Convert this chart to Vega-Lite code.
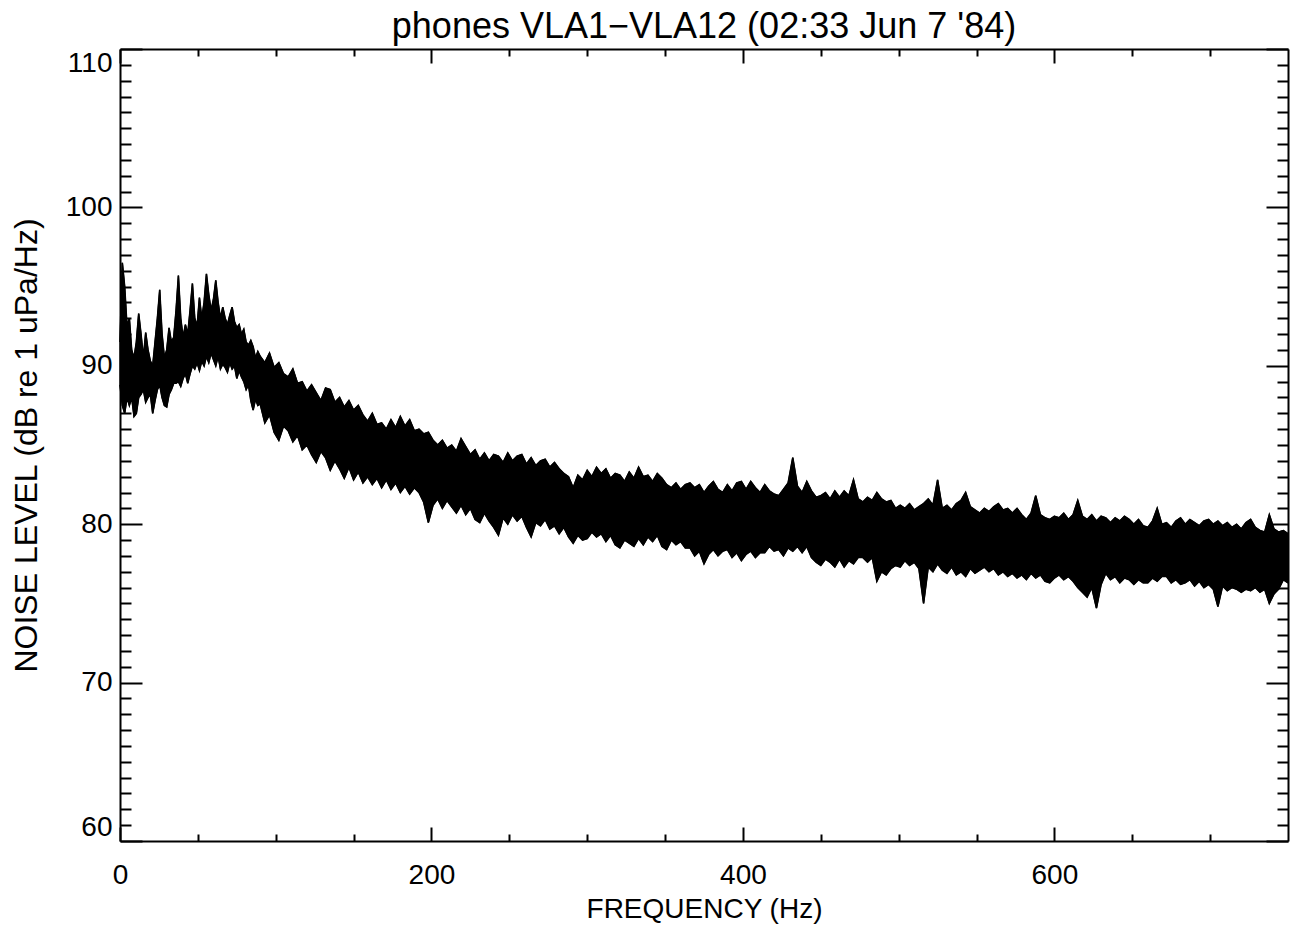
{
  "$schema": "https://vega.github.io/schema/vega-lite/v6.json",
  "width": 1168,
  "height": 792,
  "autosize": {"type": "none"},
  "padding": {"left": 120, "top": 49, "right": 8, "bottom": 89},
  "background": "white",
  "title": {
    "text": "phones VLA1\u2212VLA12 (02:33 Jun 7 '84)",
    "font": "Liberation Sans",
    "fontSize": 36,
    "fontWeight": "normal",
    "color": "black",
    "anchor": "middle",
    "offset": 2
  },
  "config": {
    "view": {"stroke": null},
    "axis": {
      "grid": false,
      "domainColor": "black",
      "domainWidth": 2,
      "tickColor": "black",
      "tickWidth": 2,
      "labelColor": "black",
      "labelFont": "Liberation Sans",
      "titleColor": "black",
      "titleFont": "Liberation Sans",
      "titleFontWeight": "normal"
    }
  },
  "datasets": {
    "band": [
      {"f": 0, "lo": 88.8, "hi": 91.5},
      {"f": 1.5, "lo": 87.5, "hi": 96.5},
      {"f": 3, "lo": 87.0, "hi": 95.0},
      {"f": 4.5, "lo": 88.0, "hi": 92.5},
      {"f": 6, "lo": 87.5, "hi": 93.0},
      {"f": 7.5, "lo": 88.0, "hi": 91.0},
      {"f": 9, "lo": 86.8, "hi": 90.5},
      {"f": 10.5, "lo": 87.0, "hi": 91.5},
      {"f": 12, "lo": 88.0, "hi": 93.3},
      {"f": 13.5, "lo": 88.2, "hi": 92.0},
      {"f": 15, "lo": 88.5, "hi": 90.5},
      {"f": 16.5, "lo": 87.7, "hi": 92.1},
      {"f": 18, "lo": 88.0, "hi": 91.0},
      {"f": 19.5, "lo": 88.2, "hi": 90.3},
      {"f": 21, "lo": 87.0, "hi": 90.0},
      {"f": 22.5, "lo": 87.8, "hi": 91.5},
      {"f": 24, "lo": 88.5, "hi": 93.0},
      {"f": 25.5, "lo": 88.8, "hi": 94.8},
      {"f": 27, "lo": 88.0, "hi": 92.0},
      {"f": 28.5, "lo": 87.5, "hi": 90.5},
      {"f": 30, "lo": 87.4, "hi": 91.0},
      {"f": 31.5, "lo": 88.2, "hi": 92.4},
      {"f": 33, "lo": 88.5, "hi": 91.5},
      {"f": 34.5, "lo": 88.9, "hi": 91.8},
      {"f": 36, "lo": 88.9, "hi": 93.5},
      {"f": 37.5, "lo": 89.0, "hi": 95.7},
      {"f": 39, "lo": 88.7, "hi": 93.0},
      {"f": 40.5, "lo": 89.2, "hi": 91.8},
      {"f": 42, "lo": 89.5, "hi": 92.6},
      {"f": 43.5, "lo": 88.9, "hi": 92.0},
      {"f": 45, "lo": 89.5, "hi": 93.5},
      {"f": 46.5, "lo": 90.0, "hi": 95.2},
      {"f": 48, "lo": 89.8, "hi": 93.0},
      {"f": 49.5, "lo": 90.2, "hi": 92.5},
      {"f": 51, "lo": 89.7, "hi": 94.3},
      {"f": 52.5, "lo": 90.3, "hi": 93.0},
      {"f": 54, "lo": 90.0, "hi": 94.0},
      {"f": 55.5, "lo": 90.6, "hi": 95.8},
      {"f": 57, "lo": 90.2, "hi": 94.5},
      {"f": 58.5, "lo": 90.8, "hi": 93.5},
      {"f": 60, "lo": 90.4, "hi": 94.2},
      {"f": 61.5, "lo": 90.0, "hi": 95.4},
      {"f": 63, "lo": 90.6, "hi": 94.0},
      {"f": 64.5, "lo": 89.8, "hi": 93.0},
      {"f": 66, "lo": 90.1, "hi": 93.7},
      {"f": 67.5, "lo": 89.9, "hi": 93.0},
      {"f": 69, "lo": 89.6, "hi": 92.6},
      {"f": 70.5, "lo": 90.2, "hi": 93.2},
      {"f": 72, "lo": 89.8, "hi": 93.7},
      {"f": 73.5, "lo": 90.0, "hi": 92.8},
      {"f": 75, "lo": 89.2, "hi": 92.4},
      {"f": 76.5, "lo": 89.7, "hi": 92.6},
      {"f": 78, "lo": 89.3, "hi": 92.0},
      {"f": 79.5, "lo": 89.0, "hi": 92.3},
      {"f": 81, "lo": 88.5, "hi": 91.5},
      {"f": 82.5, "lo": 88.8, "hi": 91.3},
      {"f": 84, "lo": 87.8, "hi": 91.6},
      {"f": 85.5, "lo": 87.2, "hi": 91.2},
      {"f": 87, "lo": 87.9, "hi": 90.5},
      {"f": 88.5, "lo": 87.5, "hi": 90.9},
      {"f": 90, "lo": 87.6, "hi": 90.6},
      {"f": 93, "lo": 86.4, "hi": 90.2},
      {"f": 96, "lo": 86.9, "hi": 90.8},
      {"f": 99, "lo": 85.8, "hi": 89.9},
      {"f": 102, "lo": 85.3, "hi": 90.2},
      {"f": 105, "lo": 86.2, "hi": 89.5},
      {"f": 108, "lo": 85.9, "hi": 89.3},
      {"f": 111, "lo": 85.2, "hi": 89.8},
      {"f": 114, "lo": 85.6, "hi": 88.9},
      {"f": 117, "lo": 84.7, "hi": 89.0},
      {"f": 120, "lo": 85.0, "hi": 88.4},
      {"f": 123, "lo": 84.4, "hi": 88.8},
      {"f": 126, "lo": 83.9, "hi": 88.3},
      {"f": 129, "lo": 84.6, "hi": 87.8},
      {"f": 132, "lo": 84.2, "hi": 88.6},
      {"f": 135, "lo": 83.4, "hi": 88.5},
      {"f": 138, "lo": 84.0, "hi": 87.7},
      {"f": 141, "lo": 83.5, "hi": 88.0},
      {"f": 144, "lo": 82.9, "hi": 87.4},
      {"f": 147, "lo": 83.6, "hi": 87.8},
      {"f": 150, "lo": 82.8, "hi": 87.2},
      {"f": 153, "lo": 83.3, "hi": 87.5},
      {"f": 156, "lo": 82.6, "hi": 86.9},
      {"f": 159, "lo": 83.0, "hi": 86.5},
      {"f": 162, "lo": 82.5, "hi": 87.0},
      {"f": 165, "lo": 82.9, "hi": 86.3},
      {"f": 168, "lo": 82.3, "hi": 86.4},
      {"f": 171, "lo": 82.8, "hi": 86.0},
      {"f": 174, "lo": 82.2, "hi": 86.6},
      {"f": 177, "lo": 82.6, "hi": 86.1},
      {"f": 180, "lo": 82.0, "hi": 86.8},
      {"f": 183, "lo": 82.4, "hi": 86.2},
      {"f": 186, "lo": 81.9, "hi": 86.6},
      {"f": 189, "lo": 82.3, "hi": 85.9},
      {"f": 192, "lo": 82.0, "hi": 86.0},
      {"f": 195, "lo": 81.4, "hi": 85.7},
      {"f": 198, "lo": 80.1, "hi": 85.8},
      {"f": 201, "lo": 81.2, "hi": 85.3},
      {"f": 204, "lo": 81.6, "hi": 85.0},
      {"f": 207, "lo": 81.0, "hi": 85.3},
      {"f": 210, "lo": 81.5, "hi": 84.8},
      {"f": 213, "lo": 81.1, "hi": 85.0},
      {"f": 216, "lo": 80.7, "hi": 84.6},
      {"f": 219, "lo": 81.2, "hi": 85.4},
      {"f": 222, "lo": 80.6, "hi": 84.9},
      {"f": 225, "lo": 81.0, "hi": 84.4},
      {"f": 228, "lo": 80.3, "hi": 84.7},
      {"f": 231, "lo": 80.1, "hi": 84.1},
      {"f": 234, "lo": 80.7, "hi": 84.5},
      {"f": 237, "lo": 80.2, "hi": 84.0},
      {"f": 240, "lo": 79.8, "hi": 84.4},
      {"f": 243, "lo": 79.3, "hi": 84.3},
      {"f": 246, "lo": 80.4, "hi": 83.9},
      {"f": 249, "lo": 80.0, "hi": 84.5},
      {"f": 252, "lo": 80.6, "hi": 84.0},
      {"f": 255, "lo": 80.2, "hi": 84.3},
      {"f": 258, "lo": 80.5, "hi": 84.4},
      {"f": 261, "lo": 79.8, "hi": 83.8},
      {"f": 264, "lo": 79.2, "hi": 84.2},
      {"f": 267, "lo": 80.1, "hi": 83.7},
      {"f": 270, "lo": 79.9, "hi": 84.0},
      {"f": 273, "lo": 80.3, "hi": 84.1},
      {"f": 276, "lo": 79.7, "hi": 83.6},
      {"f": 279, "lo": 79.9, "hi": 83.9},
      {"f": 282, "lo": 79.4, "hi": 83.5},
      {"f": 285, "lo": 79.8, "hi": 83.2},
      {"f": 288, "lo": 79.2, "hi": 83.0},
      {"f": 291, "lo": 78.8, "hi": 82.3},
      {"f": 294, "lo": 79.3, "hi": 83.1},
      {"f": 297, "lo": 79.0, "hi": 82.8},
      {"f": 300, "lo": 79.1, "hi": 83.4},
      {"f": 303, "lo": 79.5, "hi": 83.0},
      {"f": 306, "lo": 79.2, "hi": 83.6},
      {"f": 309, "lo": 79.4, "hi": 83.2},
      {"f": 312, "lo": 78.9, "hi": 83.5},
      {"f": 315, "lo": 79.3, "hi": 82.9},
      {"f": 318, "lo": 78.7, "hi": 83.2},
      {"f": 321, "lo": 78.5, "hi": 83.1},
      {"f": 324, "lo": 79.0, "hi": 82.7},
      {"f": 327, "lo": 78.8, "hi": 83.3},
      {"f": 330, "lo": 78.6, "hi": 82.9},
      {"f": 333, "lo": 79.1, "hi": 83.6},
      {"f": 336, "lo": 78.7, "hi": 83.0},
      {"f": 339, "lo": 79.2, "hi": 83.1},
      {"f": 342, "lo": 78.9, "hi": 82.7},
      {"f": 345, "lo": 79.3, "hi": 83.2},
      {"f": 348, "lo": 78.6, "hi": 82.9},
      {"f": 351, "lo": 78.4, "hi": 82.5},
      {"f": 354, "lo": 79.0, "hi": 82.3},
      {"f": 357, "lo": 78.7, "hi": 82.6},
      {"f": 360, "lo": 78.9, "hi": 82.2},
      {"f": 363, "lo": 78.5, "hi": 82.5},
      {"f": 366, "lo": 78.5, "hi": 82.6},
      {"f": 369, "lo": 78.0, "hi": 82.3},
      {"f": 372, "lo": 78.3, "hi": 82.5},
      {"f": 375, "lo": 77.5, "hi": 82.0},
      {"f": 378, "lo": 78.1, "hi": 82.4},
      {"f": 381, "lo": 78.4, "hi": 82.7},
      {"f": 384, "lo": 78.0, "hi": 82.2},
      {"f": 387, "lo": 78.3, "hi": 82.0},
      {"f": 390, "lo": 78.4, "hi": 82.5},
      {"f": 393, "lo": 77.9, "hi": 82.1},
      {"f": 396, "lo": 78.2, "hi": 82.6},
      {"f": 399, "lo": 77.7, "hi": 82.7},
      {"f": 402, "lo": 78.1, "hi": 82.2},
      {"f": 405, "lo": 78.3, "hi": 82.7},
      {"f": 408, "lo": 77.9, "hi": 82.3},
      {"f": 411, "lo": 78.2, "hi": 82.0},
      {"f": 414, "lo": 78.2, "hi": 82.5},
      {"f": 417, "lo": 78.6, "hi": 82.1},
      {"f": 420, "lo": 78.3, "hi": 81.9},
      {"f": 423, "lo": 78.4, "hi": 81.8},
      {"f": 426, "lo": 78.0, "hi": 82.2},
      {"f": 429, "lo": 78.5, "hi": 82.6},
      {"f": 432, "lo": 78.3, "hi": 84.2},
      {"f": 435, "lo": 78.6, "hi": 82.4},
      {"f": 438, "lo": 78.2, "hi": 82.0},
      {"f": 441, "lo": 78.6, "hi": 82.7},
      {"f": 444, "lo": 77.9, "hi": 82.1},
      {"f": 447, "lo": 77.6, "hi": 81.7},
      {"f": 450, "lo": 77.4, "hi": 81.8},
      {"f": 453, "lo": 77.8, "hi": 82.0},
      {"f": 456, "lo": 77.6, "hi": 81.6},
      {"f": 459, "lo": 77.3, "hi": 82.1},
      {"f": 462, "lo": 77.8, "hi": 81.7},
      {"f": 465, "lo": 77.3, "hi": 82.1},
      {"f": 468, "lo": 77.7, "hi": 81.8},
      {"f": 471, "lo": 77.5, "hi": 82.8},
      {"f": 474, "lo": 77.9, "hi": 81.6},
      {"f": 477, "lo": 77.9, "hi": 81.4},
      {"f": 480, "lo": 77.6, "hi": 81.7},
      {"f": 483, "lo": 77.9, "hi": 81.5},
      {"f": 486, "lo": 76.4, "hi": 82.0},
      {"f": 489, "lo": 77.0, "hi": 81.6},
      {"f": 492, "lo": 76.8, "hi": 81.4},
      {"f": 495, "lo": 77.2, "hi": 81.5},
      {"f": 498, "lo": 77.4, "hi": 81.0},
      {"f": 501, "lo": 77.3, "hi": 81.2},
      {"f": 504, "lo": 77.7, "hi": 81.0},
      {"f": 507, "lo": 77.4, "hi": 81.3},
      {"f": 510, "lo": 77.6, "hi": 80.9},
      {"f": 513, "lo": 77.2, "hi": 81.1},
      {"f": 516, "lo": 75.0, "hi": 81.3},
      {"f": 519, "lo": 77.3, "hi": 81.6},
      {"f": 522, "lo": 77.0, "hi": 81.2},
      {"f": 525, "lo": 77.5, "hi": 82.8},
      {"f": 528, "lo": 77.1, "hi": 81.0},
      {"f": 531, "lo": 76.9, "hi": 81.2},
      {"f": 534, "lo": 77.3, "hi": 80.9},
      {"f": 537, "lo": 76.8, "hi": 81.3},
      {"f": 540, "lo": 77.0, "hi": 81.5},
      {"f": 543, "lo": 76.7, "hi": 82.0},
      {"f": 546, "lo": 77.2, "hi": 81.1},
      {"f": 549, "lo": 76.9, "hi": 80.9},
      {"f": 552, "lo": 77.1, "hi": 80.7},
      {"f": 555, "lo": 77.3, "hi": 81.0},
      {"f": 558, "lo": 77.0, "hi": 80.8},
      {"f": 561, "lo": 77.2, "hi": 81.1},
      {"f": 564, "lo": 76.8, "hi": 81.3},
      {"f": 567, "lo": 77.0, "hi": 80.9},
      {"f": 570, "lo": 76.7, "hi": 81.0},
      {"f": 573, "lo": 76.9, "hi": 80.7},
      {"f": 576, "lo": 76.6, "hi": 81.0},
      {"f": 579, "lo": 76.8, "hi": 80.6},
      {"f": 582, "lo": 76.5, "hi": 80.3},
      {"f": 585, "lo": 76.9, "hi": 80.7},
      {"f": 588, "lo": 76.6, "hi": 81.8},
      {"f": 591, "lo": 76.8, "hi": 80.6},
      {"f": 594, "lo": 76.4, "hi": 80.4},
      {"f": 597, "lo": 76.3, "hi": 80.3},
      {"f": 600, "lo": 76.6, "hi": 80.5},
      {"f": 603, "lo": 76.8, "hi": 80.4},
      {"f": 606, "lo": 76.5, "hi": 80.7},
      {"f": 609, "lo": 76.7, "hi": 80.3},
      {"f": 612, "lo": 76.4, "hi": 80.6},
      {"f": 615, "lo": 76.0, "hi": 81.5},
      {"f": 618, "lo": 75.7, "hi": 80.5},
      {"f": 621, "lo": 75.4, "hi": 80.3},
      {"f": 624, "lo": 76.0, "hi": 80.6},
      {"f": 627, "lo": 74.7, "hi": 80.2},
      {"f": 630, "lo": 76.2, "hi": 80.5},
      {"f": 633, "lo": 76.9, "hi": 80.4},
      {"f": 636, "lo": 76.5, "hi": 80.1},
      {"f": 639, "lo": 76.7, "hi": 80.4},
      {"f": 642, "lo": 76.3, "hi": 80.2},
      {"f": 645, "lo": 76.6, "hi": 80.5},
      {"f": 648, "lo": 76.5, "hi": 80.3},
      {"f": 651, "lo": 76.2, "hi": 80.0},
      {"f": 654, "lo": 76.5, "hi": 80.3},
      {"f": 657, "lo": 76.3, "hi": 79.9},
      {"f": 660, "lo": 76.3, "hi": 79.8},
      {"f": 663, "lo": 76.6, "hi": 80.2},
      {"f": 666, "lo": 76.4, "hi": 81.0},
      {"f": 669, "lo": 76.7, "hi": 80.0},
      {"f": 672, "lo": 76.7, "hi": 80.1},
      {"f": 675, "lo": 76.3, "hi": 79.8},
      {"f": 678, "lo": 76.5, "hi": 80.2},
      {"f": 681, "lo": 76.2, "hi": 80.4},
      {"f": 684, "lo": 76.3, "hi": 80.0},
      {"f": 687, "lo": 76.5, "hi": 80.3},
      {"f": 690, "lo": 76.1, "hi": 80.1},
      {"f": 693, "lo": 76.4, "hi": 79.9},
      {"f": 696, "lo": 76.0, "hi": 80.2},
      {"f": 699, "lo": 76.2, "hi": 80.3},
      {"f": 702, "lo": 75.9, "hi": 80.0},
      {"f": 705, "lo": 74.8, "hi": 80.2},
      {"f": 708, "lo": 76.1, "hi": 79.9},
      {"f": 711, "lo": 75.8, "hi": 80.1},
      {"f": 714, "lo": 76.0, "hi": 79.8},
      {"f": 717, "lo": 75.9, "hi": 80.0},
      {"f": 720, "lo": 75.7, "hi": 79.7},
      {"f": 723, "lo": 75.9, "hi": 80.1},
      {"f": 726, "lo": 75.8, "hi": 80.3},
      {"f": 729, "lo": 76.0, "hi": 79.8},
      {"f": 732, "lo": 75.7, "hi": 79.6},
      {"f": 735, "lo": 75.9, "hi": 79.5},
      {"f": 738, "lo": 75.0, "hi": 80.6},
      {"f": 741, "lo": 75.6, "hi": 79.7},
      {"f": 744, "lo": 75.9, "hi": 79.5},
      {"f": 747, "lo": 76.5, "hi": 79.6},
      {"f": 750, "lo": 76.3, "hi": 79.4}
    ]
  },
  "data": {"name": "band"},
  "layer": [
    {
      "mark": {"type": "area", "color": "black", "stroke": "black", "strokeWidth": 1.2, "opacity": 1},
      "encoding": {
        "x": {
          "field": "f", "type": "quantitative",
          "scale": {"domain": [0, 750], "nice": false, "zero": false},
          "axis": {
            "orient": "bottom", "values": [0, 200, 400, 600], "tickSize": -14,
            "labelFontSize": 28, "labelPadding": 34, "labelFlush": false,
            "title": "FREQUENCY (Hz)", "titleFontSize": 28, "titlePadding": 6
          }
        },
        "y": {
          "field": "lo", "type": "quantitative",
          "scale": {"domain": [60, 110], "nice": false, "zero": false},
          "axis": {
            "orient": "left", "values": [60, 70, 80, 90, 100, 110], "tickSize": -22,
            "labelFontSize": 28, "labelPadding": 30, "labelFlush": true,
            "title": "NOISE LEVEL (dB re 1 uPa/Hz)", "titleFontSize": 32, "titlePadding": 22
          }
        },
        "y2": {"field": "hi"}
      }
    },
    {
      "mark": {"type": "line", "color": "black", "strokeWidth": 1.6},
      "encoding": {
        "x": {
          "field": "f", "type": "quantitative",
          "scale": {"domain": [0, 750], "nice": false, "zero": false},
          "axis": {"orient": "top", "values": [0, 200, 400, 600], "tickSize": -14, "labels": false, "title": null}
        },
        "y": {
          "field": "hi", "type": "quantitative",
          "scale": {"domain": [60, 110], "nice": false, "zero": false},
          "axis": {"orient": "right", "values": [60, 70, 80, 90, 100, 110], "tickSize": -22, "labels": false, "title": null}
        }
      }
    },
    {
      "mark": {"type": "line", "color": "black", "strokeWidth": 1.6},
      "encoding": {
        "x": {
          "field": "f", "type": "quantitative",
          "scale": {"domain": [0, 750], "nice": false, "zero": false},
          "axis": {"orient": "bottom", "domain": false, "values": [50, 100, 150, 250, 300, 350, 450, 500, 550, 650, 700], "tickSize": -7, "labels": false, "title": null}
        },
        "y": {
          "field": "lo", "type": "quantitative",
          "scale": {"domain": [60, 110], "nice": false, "zero": false},
          "axis": {"orient": "left", "domain": false, "values": [61,62,63,64,65,66,67,68,69,71,72,73,74,75,76,77,78,79,81,82,83,84,85,86,87,88,89,91,92,93,94,95,96,97,98,99,101,102,103,104,105,106,107,108,109], "tickSize": -11, "labels": false, "title": null}
        }
      }
    },
    {
      "mark": {"type": "line", "color": "black", "strokeWidth": 0, "opacity": 0},
      "encoding": {
        "x": {
          "field": "f", "type": "quantitative",
          "scale": {"domain": [0, 750], "nice": false, "zero": false},
          "axis": {"orient": "top", "domain": false, "values": [50, 100, 150, 250, 300, 350, 450, 500, 550, 650, 700], "tickSize": -7, "labels": false, "title": null}
        },
        "y": {
          "field": "hi", "type": "quantitative",
          "scale": {"domain": [60, 110], "nice": false, "zero": false},
          "axis": {"orient": "right", "domain": false, "values": [61,62,63,64,65,66,67,68,69,71,72,73,74,75,76,77,78,79,81,82,83,84,85,86,87,88,89,91,92,93,94,95,96,97,98,99,101,102,103,104,105,106,107,108,109], "tickSize": -11, "labels": false, "title": null}
        }
      }
    }
  ],
  "resolve": {"axis": {"x": "independent", "y": "independent"}}
}
